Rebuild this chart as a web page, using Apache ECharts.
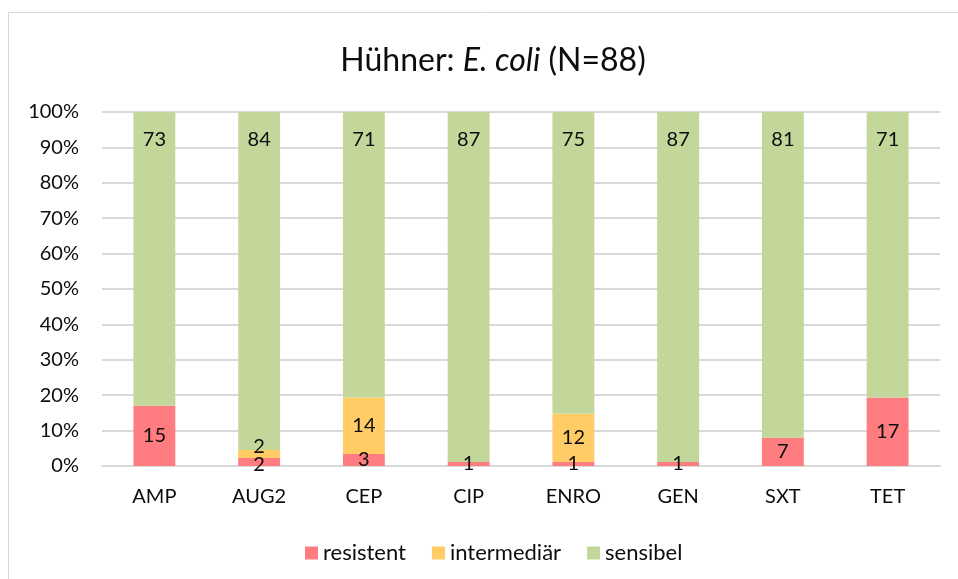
<!DOCTYPE html>
<html><head><meta charset="utf-8">
<script src="https://cdn.jsdelivr.net/npm/echarts@6/dist/echarts.min.js"></script>
<style>html,body{margin:0;padding:0;background:#fff}#c{width:958px;height:579px}</style>
</head><body><div id="c"></div>
<script>
const categories = ['AMP','AUG2','CEP','CIP','ENRO','GEN','SXT','TET'];
const resistent = [15, 2, 3, 1, 1, 1, 7, 17];
const intermediar = [0, 2, 14, 0, 12, 0, 0, 0];
const sensibel = [73, 84, 71, 87, 75, 87, 81, 71];
const yTicks = ['0%','10%','20%','30%','40%','50%','60%','70%','80%','90%','100%'];
const seriesNames = ['resistent','intermediär','sensibel'];
const colors = ['#FF7C80','#FFCC66','#C4D79B'];

const totals = categories.map((_, i) => resistent[i] + intermediar[i] + sensibel[i]);
const FONT = 'Lato';
const labelOffsets = { 0: { 1: [0, 3] }, 1: { 1: [0, -7] } };

function mk(name, arr, idx, pos, dist) {
  return {
    name: name, type: 'bar', stack: 'all', barWidth: '40%',
    itemStyle: { color: colors[idx] },
    data: arr.map((v, i) => {
      const d = { value: v / totals[i] * 100, raw: v };
      const lab = { show: v > 0 };
      if (labelOffsets[idx] && labelOffsets[idx][i]) lab.offset = labelOffsets[idx][i];
      d.label = lab;
      return d;
    }),
    label: {
      position: pos, distance: dist, fontFamily: FONT, fontSize: 20, color: '#0d0d0d',
      formatter: p => String(p.data.raw)
    }
  };
}

const chart = echarts.init(document.getElementById('c'));
chart.setOption({
  animation: false,
  graphic: [{ type: 'rect', shape: { x: 8.5, y: 12.5, width: 980, height: 620 },
    style: { fill: 'none', stroke: '#d9d9d9', lineWidth: 1 } }],
  title: {
    text: '{n|Hühner: }{i|E. coli}{n| (N=88)}',
    left: 488, top: 40, textAlign: 'center',
    textStyle: { rich: {
      n: { fontFamily: FONT, fontSize: 32, fontWeight: 'normal', color: '#0d0d0d' },
      i: { fontFamily: FONT, fontSize: 32, fontWeight: 'normal', fontStyle: 'italic', color: '#0d0d0d' }
    } }
  },
  legend: {
    left: 300, top: 537, itemWidth: 13, itemHeight: 13, itemGap: 26,
    icon: 'rect', data: seriesNames,
    textStyle: { fontFamily: FONT, fontSize: 22, color: '#0d0d0d' }
  },
  grid: { left: 102, right: 18, top: 112, bottom: 113 },
  xAxis: {
    type: 'category', data: categories,
    axisLine: { lineStyle: { color: '#d9d9d9', width: 2 } },
    axisTick: { show: false },
    axisLabel: { fontFamily: FONT, fontSize: 20, color: '#0d0d0d', margin: 21 }
  },
  yAxis: {
    type: 'value', min: 0, max: 100, interval: 10,
    axisLine: { show: false }, axisTick: { show: false },
    splitLine: { lineStyle: { color: '#d9d9d9', width: 2 } },
    axisLabel: { fontFamily: FONT, fontSize: 20, color: '#0d0d0d', margin: 23,
      formatter: v => yTicks[Math.round(v / 10)] }
  },
  series: [
    mk(seriesNames[0], resistent, 0, 'inside', 5),
    mk(seriesNames[1], intermediar, 1, 'inside', 5),
    mk(seriesNames[2], sensibel, 2, 'insideTop', 18)
  ]
});
</script></body></html>
